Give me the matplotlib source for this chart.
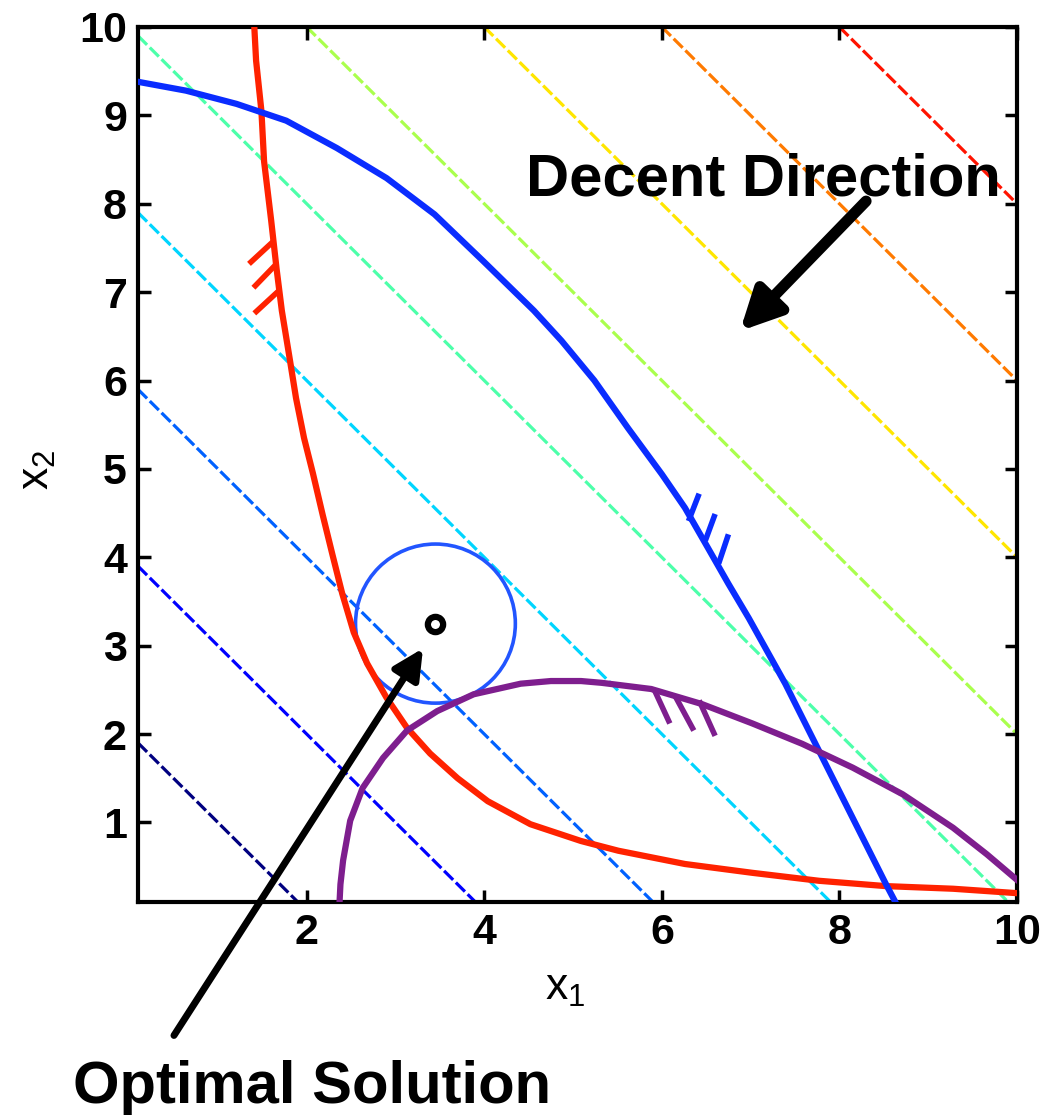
import numpy as np
import matplotlib.pyplot as plt
from matplotlib.colors import Normalize
from matplotlib.patches import Circle

plt.rcParams['font.family'] = 'Liberation Sans'
plt.rcParams['mathtext.fontset'] = 'custom'
plt.rcParams['mathtext.rm'] = 'Liberation Sans'
plt.rcParams['mathtext.it'] = 'Liberation Sans'

# objective contour levels (f = x1 + x2)
levels = [2, 4, 6, 8, 10, 12, 14, 16, 18]
x_range = [0.1, 10.0]
y_range = [0.1, 10.0]

# constraint curves
red_x = [1.41, 1.43, 1.49, 1.52, 1.60, 1.66, 1.72, 1.80, 1.88, 1.97, 2.07, 2.18, 2.29, 2.40, 2.53, 2.68, 2.90,
         3.13, 3.39, 3.70, 4.04, 4.52, 5.09, 5.51, 6.26, 7.02, 7.77, 8.52, 9.28, 10.0]
red_y = [10.0, 9.62, 9.05, 8.48, 7.81, 7.27, 6.79, 6.30, 5.80, 5.35, 4.95, 4.48, 4.03, 3.59, 3.15, 2.80, 2.41,
         2.07, 1.78, 1.50, 1.24, 0.98, 0.79, 0.68, 0.53, 0.43, 0.34, 0.28, 0.25, 0.20]

blue_x = [0.1, 0.64, 1.21, 1.77, 2.34, 2.90, 3.44, 3.99, 4.56, 4.87, 5.24, 5.62, 6.0, 6.26, 6.50, 6.75, 6.98,
          7.39, 7.77, 8.15, 8.52, 8.63]
blue_y = [9.38, 9.28, 9.13, 8.94, 8.63, 8.29, 7.88, 7.35, 6.79, 6.45, 6.0, 5.46, 4.94, 4.56, 4.14, 3.70, 3.31,
          2.57, 1.81, 1.05, 0.31, 0.1]

purple_x = [2.37, 2.38, 2.41, 2.49, 2.63, 2.86, 3.13, 3.47, 3.88, 4.41, 4.75, 5.09, 5.32, 5.88, 6.45, 7.02,
            7.58, 8.15, 8.71, 9.28, 9.66, 10.0]
purple_y = [0.1, 0.3, 0.57, 1.02, 1.39, 1.73, 2.04, 2.26, 2.45, 2.57, 2.60, 2.60, 2.58, 2.51, 2.34, 2.12,
            1.89, 1.62, 1.32, 0.94, 0.64, 0.35]

# hatch marks: (x0, y0, x1, y1)
red_hatch = [(1.63, 7.58, 1.35, 7.32), (1.66, 7.32, 1.40, 7.05), (1.68, 7.01, 1.41, 6.76)]
blue_hatch = [(6.30, 4.41, 6.42, 4.72), (6.49, 4.19, 6.60, 4.49), (6.64, 3.93, 6.75, 4.26)]
purple_hatch = [(5.92, 2.49, 6.09, 2.12), (6.15, 2.43, 6.36, 2.04), (6.42, 2.38, 6.60, 1.98)]

circle_center = (3.45, 3.25)
circle_radius = 0.9
optimum = (3.45, 3.25)

xtick_vals = [2, 4, 6, 8, 10]
ytick_vals = [1, 2, 3, 4, 5, 6, 7, 8, 9, 10]

fig = plt.figure(figsize=(10.44, 11.18), dpi=100)
ax = fig.add_axes([138/1044, 1-902/1118, 879/1044, 875/1118])

# objective contours
g1 = np.linspace(x_range[0], x_range[1], 300)
g2 = np.linspace(y_range[0], y_range[1], 300)
X1, X2 = np.meshgrid(g1, g2)
ax.contour(X1, X2, X1 + X2, levels=levels, cmap='jet', norm=Normalize(vmin=2, vmax=20),
           linewidths=2.3, linestyles=[(0, (4, 1.2))], zorder=1)

red = '#ff2200'
blue = '#0a2cff'
purple = '#7e1e8e'

ax.plot(red_x, red_y, color=red, lw=4.5, zorder=3)
ax.plot(blue_x, blue_y, color=blue, lw=4.5, zorder=3)
ax.plot(purple_x, purple_y, color=purple, lw=4.5, zorder=3)

for hatches, col in [(red_hatch, red), (blue_hatch, blue), (purple_hatch, purple)]:
    for h in hatches:
        ax.plot([h[0], h[2]], [h[1], h[3]], color=col, lw=4, solid_capstyle='butt', zorder=3)

ax.add_patch(Circle(circle_center, circle_radius, fill=False, ec='#2255ff', lw=2.6, zorder=2))
ax.plot([optimum[0]], [optimum[1]], 'o', ms=11, mfc='white', mec='black', mew=4.5, zorder=5)

# arrows
ax.annotate('', xy=(3.31, 2.97), xytext=(0.505, -1.41),
            arrowprops=dict(arrowstyle='-|>,head_length=0.6,head_width=0.3', lw=5, color='black',
                            mutation_scale=30, shrinkA=0, shrinkB=0),
            annotation_clip=False, zorder=6)
ax.annotate('', xy=(6.88, 6.56), xytext=(8.30, 8.03),
            arrowprops=dict(arrowstyle='-|>,head_length=0.6,head_width=0.3', lw=8, color='black',
                            mutation_scale=40, shrinkA=0, shrinkB=0),
            annotation_clip=False, zorder=6)

fig.text(526/1044, 1-195/1118, 'Decent Direction', fontsize=43, fontweight='bold', va='baseline')
fig.text(73/1044, 1-1103/1118, 'Optimal Solution', fontsize=43, fontweight='bold', va='baseline')

ax.set_xlim(x_range)
ax.set_ylim(y_range)
ax.set_xticks(xtick_vals)
ax.set_xticklabels([str(v) for v in xtick_vals], fontweight='bold')
ax.set_yticks(ytick_vals)
ax.set_yticklabels([str(v) for v in ytick_vals], fontweight='bold')
ax.tick_params(direction='in', length=9, width=2.5, top=True, right=True, labelsize=31, pad=8)
for s in ax.spines.values():
    s.set_linewidth(3)

ax.set_xlabel(r'$\mathregular{x_1}$', fontsize=32)
ax.set_ylabel(r'$\mathregular{x_2}$', fontsize=32)
ax.xaxis.set_label_coords(0.486, -0.075)
ax.yaxis.set_label_coords(-0.091, 0.494)

fig.savefig('out.png', dpi=100)
